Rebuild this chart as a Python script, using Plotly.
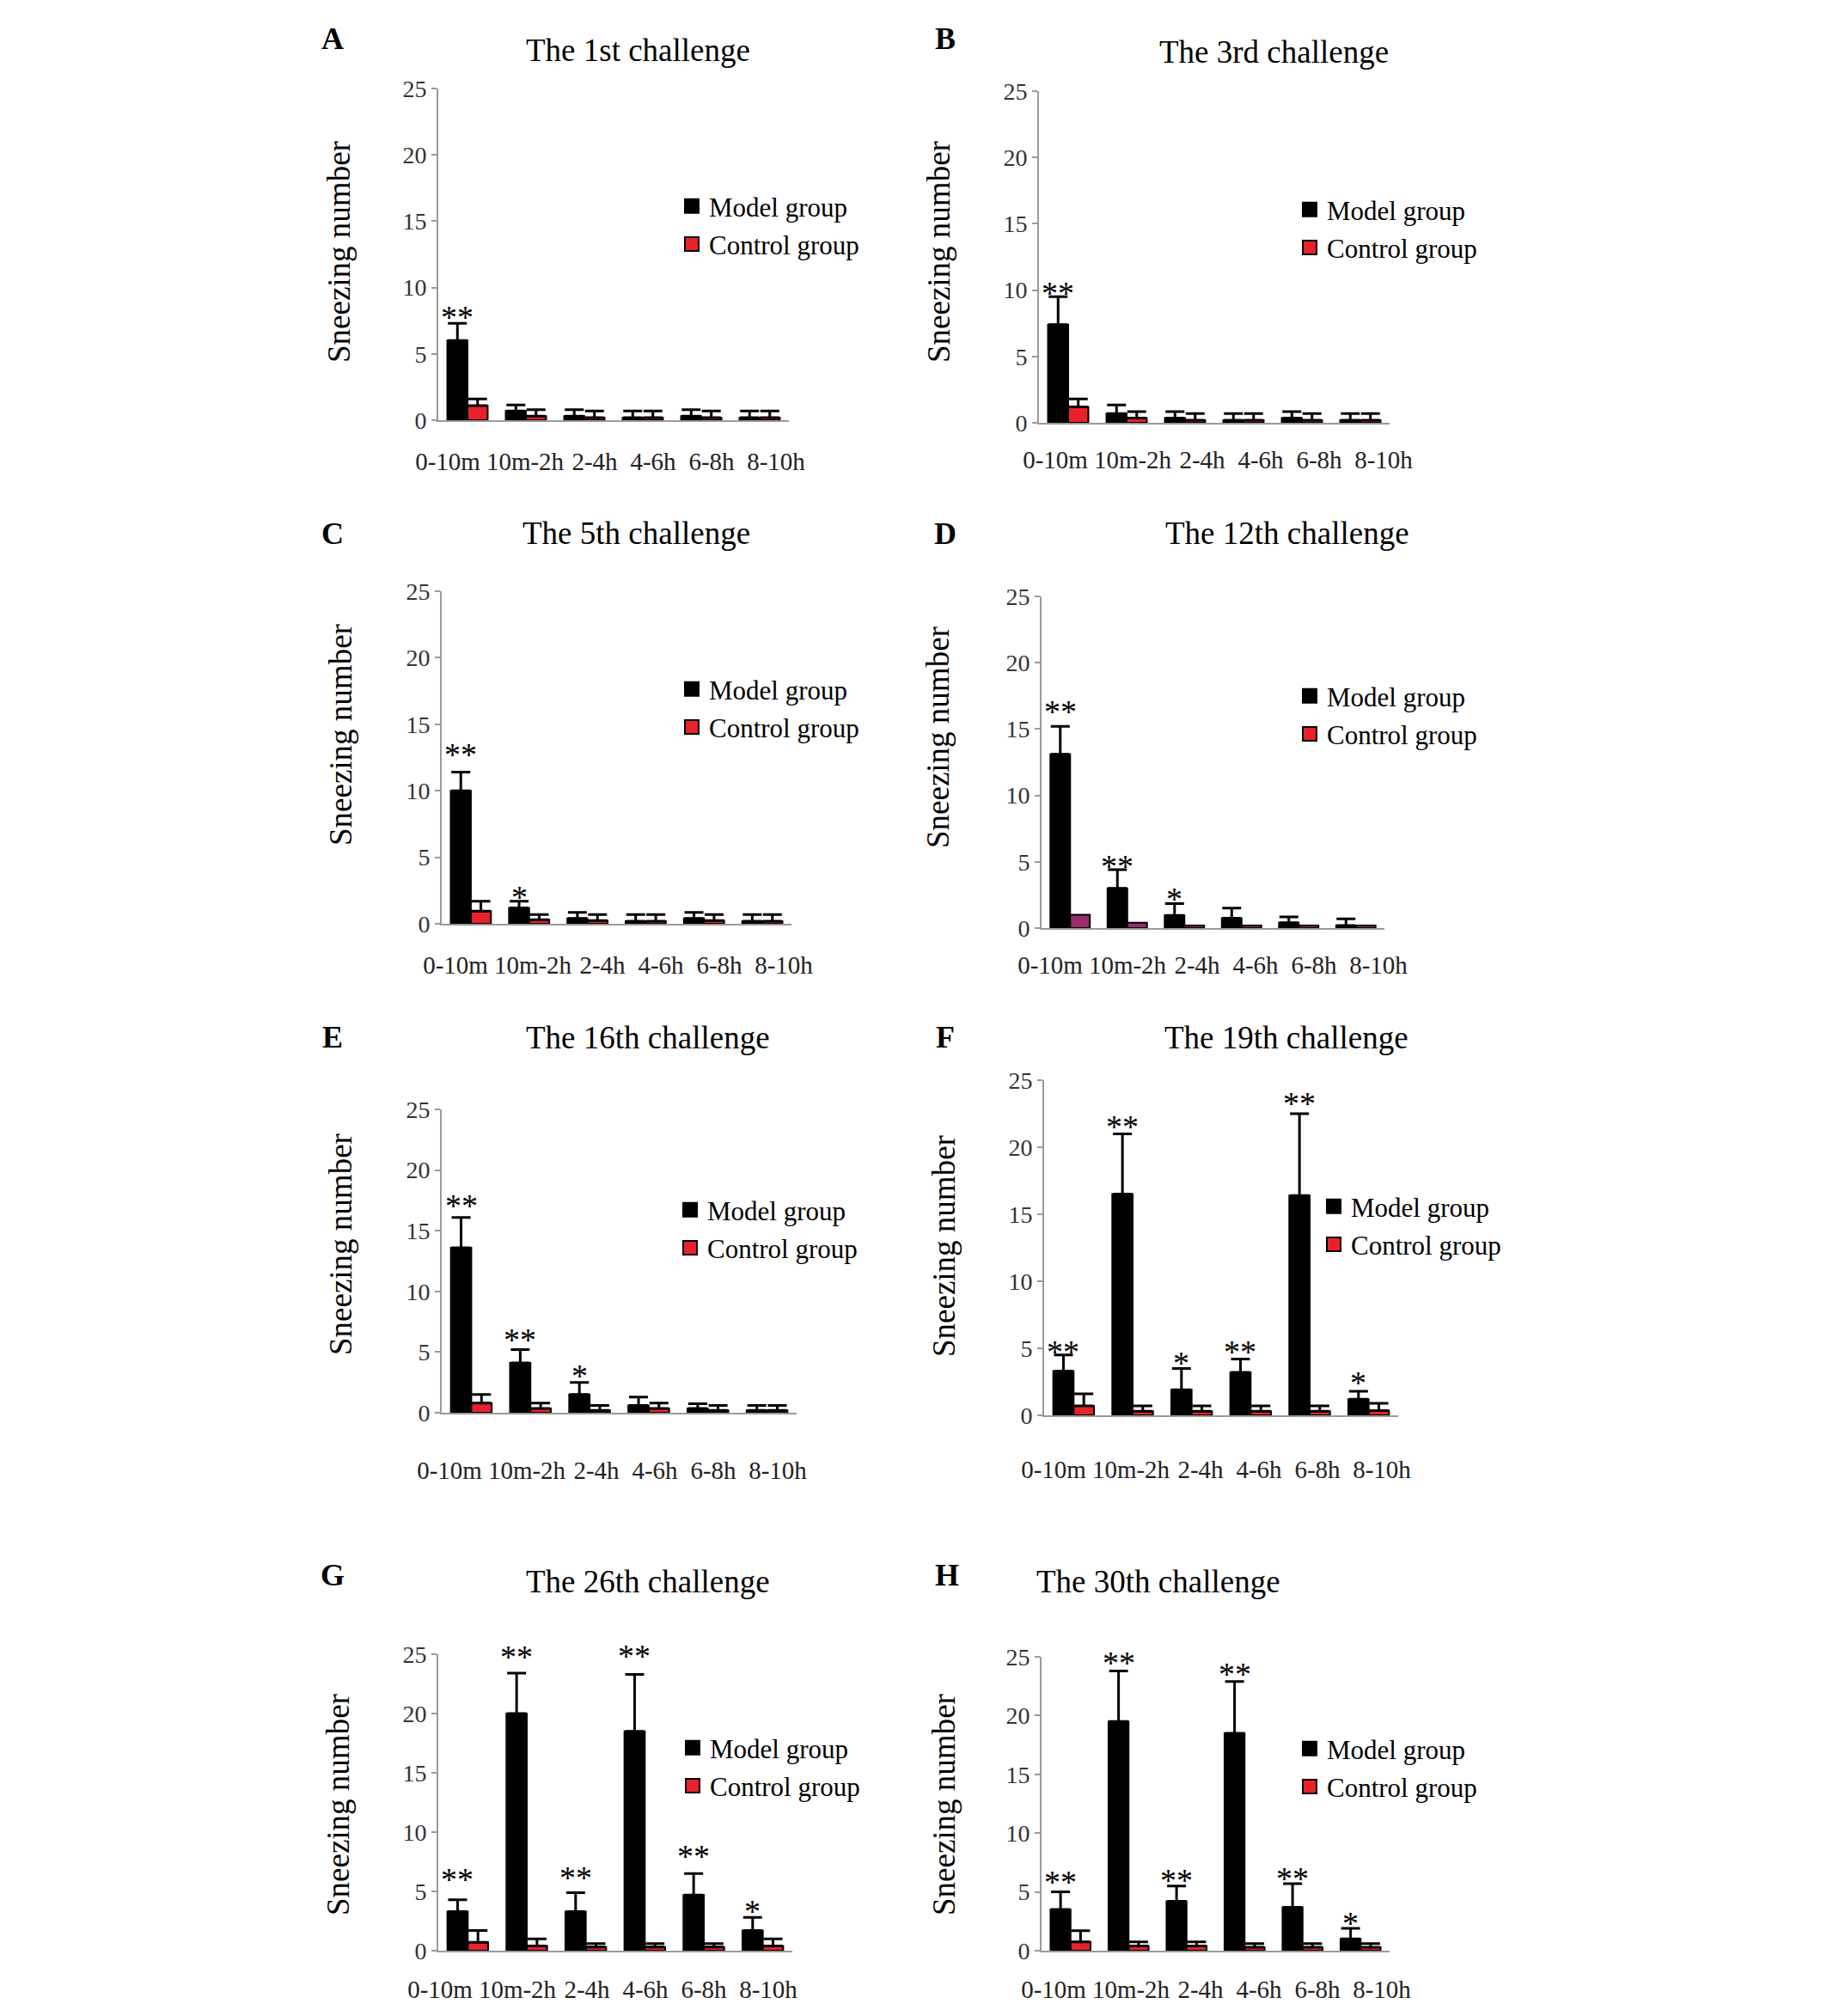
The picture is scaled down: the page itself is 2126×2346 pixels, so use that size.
import plotly.graph_objects as go

W, H = 2126, 2346

categories = ["0-10m", "10m-2h", "2-4h", "4-6h", "6-8h", "8-10h"]
y_tick_vals = [0, 5, 10, 15, 20, 25]

titles = ["The 1st challenge", "The 3rd challenge", "The 5th challenge", "The 12th challenge",
          "The 16th challenge", "The 19th challenge", "The 26th challenge", "The 30th challenge"]
letters = ["A", "B", "C", "D", "E", "F", "G", "H"]
group_names = ["Model group", "Control group"]

# --- values (mean, upper error) ---
model_1st = [6.0, 0.7, 0.3, 0.2, 0.3, 0.2]
model_1st_err = [1.3, 0.45, 0.5, 0.5, 0.5, 0.5]
control_1st = [1.1, 0.3, 0.2, 0.2, 0.2, 0.2]
control_1st_err = [0.5, 0.5, 0.5, 0.5, 0.5, 0.5]
stars_1st = ["**", "", "", "", "", ""]

model_3rd = [7.4, 0.7, 0.35, 0.2, 0.35, 0.2]
model_3rd_err = [2.1, 0.65, 0.5, 0.5, 0.5, 0.5]
control_3rd = [1.2, 0.35, 0.2, 0.2, 0.2, 0.2]
control_3rd_err = [0.6, 0.5, 0.5, 0.5, 0.5, 0.5]
stars_3rd = ["**", "", "", "", "", ""]

model_5th = [10.0, 1.2, 0.4, 0.2, 0.4, 0.2]
model_5th_err = [1.4, 0.5, 0.45, 0.5, 0.45, 0.5]
control_5th = [0.95, 0.3, 0.25, 0.2, 0.25, 0.2]
control_5th_err = [0.75, 0.4, 0.45, 0.5, 0.45, 0.5]
stars_5th = ["**", "*", "", "", "", ""]

model_12th = [13.1, 3.0, 0.95, 0.75, 0.4, 0.2]
model_12th_err = [2.1, 1.4, 0.9, 0.75, 0.45, 0.5]
control_12th = [1.0, 0.4, 0.2, 0.2, 0.2, 0.2]
control_12th_err = [0, 0, 0, 0, 0, 0]
stars_12th = ["**", "**", "*", "", "", ""]

model_16th = [13.6, 4.1, 1.5, 0.6, 0.35, 0.2]
model_16th_err = [2.5, 1.1, 1.0, 0.7, 0.4, 0.4]
control_16th = [0.8, 0.35, 0.2, 0.35, 0.2, 0.2]
control_16th_err = [0.7, 0.45, 0.4, 0.45, 0.4, 0.4]
stars_16th = ["**", "**", "*", "", "", ""]

model_19th = [3.3, 16.5, 1.9, 3.2, 16.4, 1.2]
model_19th_err = [1.2, 4.5, 1.6, 1.0, 6.1, 0.6]
control_19th = [0.7, 0.3, 0.3, 0.3, 0.3, 0.35]
control_19th_err = [0.9, 0.4, 0.4, 0.4, 0.4, 0.55]
stars_19th = ["**", "**", "*", "**", "**", "*"]

model_26th = [3.3, 20.0, 3.3, 18.5, 4.7, 1.7]
model_26th_err = [1.0, 3.4, 1.6, 4.8, 1.8, 1.1]
control_26th = [0.7, 0.4, 0.3, 0.3, 0.3, 0.4]
control_26th_err = [1.0, 0.6, 0.3, 0.3, 0.3, 0.6]
stars_26th = ["**", "**", "**", "**", "**", "*"]

model_30th = [3.5, 19.5, 4.2, 18.5, 3.7, 1.0]
model_30th_err = [1.5, 4.3, 1.3, 4.4, 2.0, 0.9]
control_30th = [0.75, 0.4, 0.4, 0.3, 0.3, 0.3]
control_30th_err = [0.95, 0.35, 0.35, 0.3, 0.3, 0.3]
stars_30th = ["**", "**", "**", "**", "**", "*"]

model_series = [model_1st, model_3rd, model_5th, model_12th, model_16th, model_19th, model_26th, model_30th]
model_errs = [model_1st_err, model_3rd_err, model_5th_err, model_12th_err, model_16th_err,
              model_19th_err, model_26th_err, model_30th_err]
control_series = [control_1st, control_3rd, control_5th, control_12th, control_16th,
                  control_19th, control_26th, control_30th]
control_errs = [control_1st_err, control_3rd_err, control_5th_err, control_12th_err, control_16th_err,
                control_19th_err, control_26th_err, control_30th_err]
stars = [stars_1st, stars_3rd, stars_5th, stars_12th, stars_16th, stars_19th, stars_26th, stars_30th]

# --- layout geometry (pixels) ---
# axis left, axis right, y of 25, y of 0
geom = [
    (510, 918, 103, 489), (1209, 1617, 106, 492),
    (514, 921, 688, 1075), (1212, 1611, 694, 1080),
    (514, 927, 1291, 1644), (1215, 1627, 1257, 1647),
    (510, 922, 1925, 2270), (1212, 1617, 1928, 2270),
]
title_pos = [(742, 58), (1482, 61), (740, 621), (1498, 621), (754, 1207), (1497, 1207), (754, 1840), (1348, 1840)]
letter_pos = [(387, 45), (1100, 45), (387, 621), (1100, 621), (387, 1207), (1100, 1207), (387, 1833), (1102, 1833)]
ylabel_pos = [(394, 293), (1092, 293), (396, 855), (1092, 858), (396, 1448), (1098, 1450), (393, 2100), (1098, 2100)]
legend_pos = [(785, 213), (1504, 217), (785, 775), (1504, 783), (783, 1381), (1532, 1377), (786, 2007), (1504, 2008)]
xlabel_standoff = [21, 16, 21, 16, 40, 36, 18, 18]
# left edge (px) of the row of time-window labels, and label centres within that row
label_row_left = [484, 1191, 493, 1185, 486, 1189, 475, 1189]
label_row_centres = [37, 127, 208, 276, 344, 419]
# gap (px) between error-bar cap and centre of the significance stars
star_gaps = [
    [12, 0, 0, 0, 0, 0], [9, 0, 0, 0, 0, 0], [26, 10, 0, 0, 0, 0], [22, 9, 10, 0, 0, 0],
    [19, 17, 13, 0, 0, 0], [9, 13, 11, 13, 17, 15], [29, 24, 22, 26, 25, 12], [17, 14, 12, 14, 11, 11],
]

SERIF = "Liberation Serif"
RED = "#e8222a"
PURPLE = "#9a2c6c"
AXIS = "#9a9a9a"
STAR_SIZE = 38

fig = go.Figure()
annotations = []
bargap = 0.31
bar_w = (1 - bargap) / 2

for i in range(8):
    n = "" if i == 0 else str(i + 1)
    xref, yref = "x" + n, "y" + n
    leg = "legend" + n
    xs = list(range(len(categories)))
    ctrl_fill = PURPLE if i == 3 else RED
    fig.add_trace(go.Bar(
        x=xs, y=model_series[i], name=group_names[0], xaxis=xref, yaxis=yref,
        offsetgroup="m",
        marker=dict(color="black", line=dict(color="black", width=2)),
        error_y=dict(type="data", symmetric=False, array=model_errs[i], arrayminus=[0] * 6,
                     color="black", thickness=3, width=11),
        showlegend=False,
    ))
    fig.add_trace(go.Bar(
        x=xs, y=control_series[i], name=group_names[1], xaxis=xref, yaxis=yref,
        offsetgroup="c",
        marker=dict(color=ctrl_fill, line=dict(color="black", width=2)),
        error_y=dict(type="data", symmetric=False, array=control_errs[i], arrayminus=[0] * 6,
                     color="black", thickness=3, width=11,
                     visible=any(v > 0 for v in control_errs[i])),
        showlegend=False,
    ))
    # legend swatches (square markers, as in the figure)
    for g, (fill, name) in enumerate(zip(["black", RED], group_names)):
        fig.add_trace(go.Scatter(
            x=[None], y=[None], mode="markers", name=name, xaxis=xref, yaxis=yref,
            marker=dict(symbol="square", size=16, color=fill, line=dict(color="black", width=2)),
            legend=leg, legendgroup=f"g{g}{n}", showlegend=True, hoverinfo="skip",
        ))
    x0, x1, yt, yz = geom[i]
    cat_w = (x1 - x0) / 6.0
    tick_pos = [(label_row_left[i] + c - x0) / cat_w - 0.5 for c in label_row_centres]
    fig.layout["xaxis" + n] = dict(
        domain=[x0 / W, x1 / W], anchor=yref, range=[-0.5, 5.5], automargin=False,
        tickvals=tick_pos, ticktext=categories, tickangle=0, showline=True, linecolor=AXIS, linewidth=2,
        ticks="", showgrid=False, zeroline=False, ticklabelstandoff=xlabel_standoff[i],
        tickfont=dict(family=SERIF, size=29, color="#222"), fixedrange=True,
    )
    fig.layout["yaxis" + n] = dict(
        domain=[1 - yz / H, 1 - yt / H], anchor=xref, range=[0, 25], automargin=False,
        tickvals=y_tick_vals, showline=True, linecolor=AXIS, linewidth=2,
        ticks="outside", ticklen=6, tickwidth=2, tickcolor=AXIS,
        showgrid=False, zeroline=False,
        tickfont=dict(family=SERIF, size=28, color="#333"), fixedrange=True,
    )
    lx, ly = legend_pos[i]
    fig.layout[leg] = dict(
        x=lx / W, y=1 - ly / H, xanchor="left", yanchor="top", xref="paper", yref="paper",
        font=dict(family=SERIF, size=31, color="black"), bgcolor="rgba(0,0,0,0)",
        traceorder="grouped", tracegroupgap=1, borderwidth=0, itemsizing="trace",
    )
    # significance stars over model bars
    for k, s in enumerate(stars[i]):
        if s:
            annotations.append(dict(
                x=k - bar_w / 2, y=model_series[i][k] + model_errs[i][k], xref=xref, yref=yref,
                text=s, showarrow=False, xanchor="center", yanchor="bottom",
                yshift=star_gaps[i][k] - round(0.716 * STAR_SIZE + 1),
                font=dict(family=SERIF, size=STAR_SIZE, color="black"),
            ))
    tx, ty = title_pos[i]
    annotations.append(dict(x=tx / W, y=1 - ty / H, xref="paper", yref="paper", text=titles[i],
                            showarrow=False, xanchor="center", yanchor="middle",
                            font=dict(family=SERIF, size=37, color="black")))
    lx2, ly2 = letter_pos[i]
    annotations.append(dict(x=lx2 / W, y=1 - ly2 / H, xref="paper", yref="paper",
                            text="<b>" + letters[i] + "</b>",
                            showarrow=False, xanchor="center", yanchor="middle",
                            font=dict(family=SERIF, size=36, color="black")))
    yx, yy = ylabel_pos[i]
    annotations.append(dict(x=yx / W, y=1 - yy / H, xref="paper", yref="paper", text="Sneezing number",
                            showarrow=False, xanchor="center", yanchor="middle", textangle=-90,
                            font=dict(family=SERIF, size=37, color="black")))

fig.update_layout(
    width=W, height=H, margin=dict(l=0, r=0, t=0, b=0, pad=0, autoexpand=False),
    paper_bgcolor="white", plot_bgcolor="white",
    barmode="group", bargap=bargap, bargroupgap=0,
    annotations=annotations,
)

fig.write_html(
    "out.html",
    config={"displayModeBar": False},
    post_script=(
        "document.documentElement.style.margin='0';document.documentElement.style.overflow='hidden';"
        "document.body.style.margin='0';document.body.style.padding='0';document.body.style.overflow='hidden';"
    ),
)
